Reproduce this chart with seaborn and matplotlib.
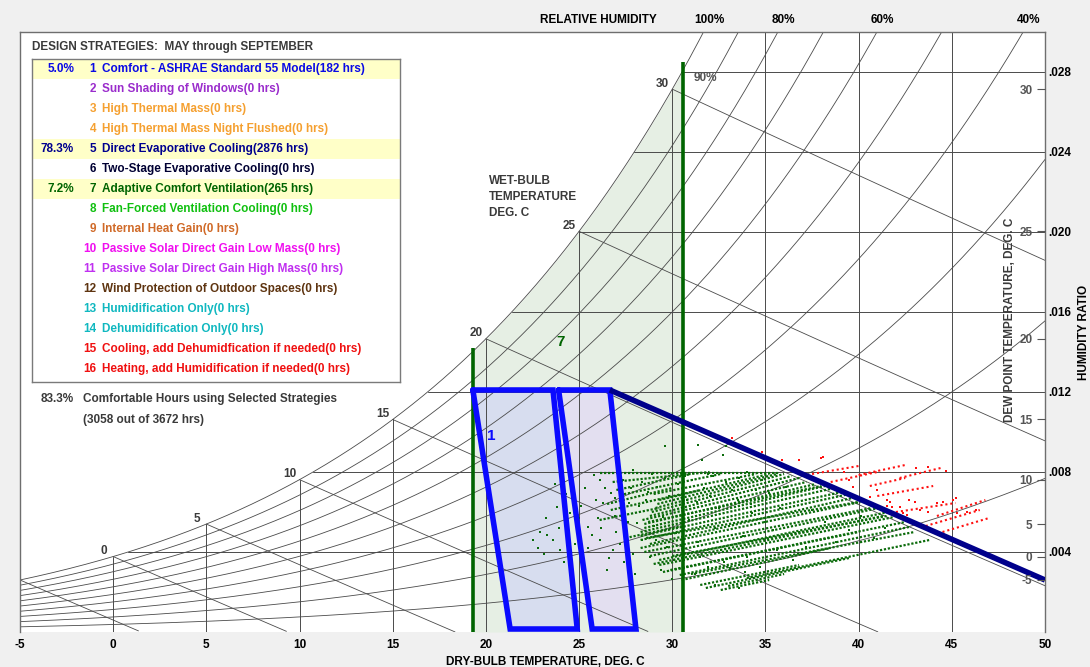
"""Psychrometric chart with design strategies, May through September."""
import numpy as np
import pandas as pd
import matplotlib

matplotlib.use("Agg")
import matplotlib.pyplot as plt
import seaborn as sns

PRESSURE_KPA = 101.325
FIG_W, FIG_H = 1090, 667

# chart furniture
rh_levels = [0.1, 0.2, 0.3, 0.4, 0.5, 0.6, 0.7, 0.8, 0.9, 1.0]
rh_header = [1.0, 0.8, 0.6, 0.4]
wet_bulb_levels = [-5, 0, 5, 10, 15, 20, 25, 30]
wet_bulb_labels = [0, 5, 10, 15, 20, 25, 30]
dry_bulb_grid = [0, 5, 10, 15, 20, 25, 30, 35, 40, 45]
ratio_grid = [0.004, 0.008, 0.012, 0.016, 0.020, 0.024, 0.028]
dew_point_ticks = [-5, 0, 5, 10, 15, 20, 25, 30]
x_ticks = [-5, 0, 5, 10, 15, 20, 25, 30, 35, 40, 45, 50]

# design strategies
strategy_ids = list(range(1, 17))
strategy_names = [
    "Comfort - ASHRAE Standard 55 Model",
    "Sun Shading of Windows",
    "High Thermal Mass",
    "High Thermal Mass Night Flushed",
    "Direct Evaporative Cooling",
    "Two-Stage Evaporative Cooling",
    "Adaptive Comfort Ventilation",
    "Fan-Forced Ventilation Cooling",
    "Internal Heat Gain",
    "Passive Solar Direct Gain Low Mass",
    "Passive Solar Direct Gain High Mass",
    "Wind Protection of Outdoor Spaces",
    "Humidification Only",
    "Dehumidification Only",
    "Cooling, add Dehumidfication if needed",
    "Heating, add Humidification if needed",
]
strategy_hours = [182, 0, 0, 0, 2876, 0, 265, 0, 0, 0, 0, 0, 0, 0, 0, 0]
strategy_share = ["5.0%", "", "", "", "78.3%", "", "7.2%", "", "", "", "", "", "", "", "", ""]
strategy_colors = [
    "#0a0ae6", "#9a2ccc", "#f5a030", "#f5a030", "#00008f", "#000033",
    "#006400", "#10c010", "#d06a28", "#f010f0", "#c030f0", "#5e3410",
    "#10b8c0", "#10b8c0", "#f01010", "#f01010",
]

# zones
zone7_t = [19.3, 30.6]
zone7_top = [0.0142, 0.0285]
comfort_low_t = [19.3, 23.6, 24.9, 21.3]
comfort_low_w = [0.0121, 0.0121, 0.00015, 0.00015]
comfort_high_t = [23.9, 26.65, 28.05, 25.7]
comfort_high_w = [0.0121, 0.0121, 0.00015, 0.00015]
evap_t = [26.65, 50.0]
evap_w = [0.0121, 0.0026]

# hourly weather streaks (start T, start W, end T, end W)
green_t0 = [31.5, 30.4, 29.3, 28.8, 28.3, 28.3, 28.3, 28.5, 28.8, 29.1, 29.3, 27.2, 26.7, 26.1, 32.6, 26.1,
            29.3, 28.8, 29.9, 28.5, 29.0, 28.5, 28.3, 28.4, 28.9, 29.2, 30.5, 31.0, 27.0, 26.5, 27.5, 33.0,
            29.5, 30.0, 28.6, 28.7, 29.0, 26.8, 31.8, 34.0]
green_w0 = [0.00235, 0.00285, 0.00335, 0.0038, 0.0042, 0.0046, 0.0050, 0.0054, 0.0058, 0.0062, 0.0066, 0.00685,
            0.0061, 0.0056, 0.0021, 0.00795, 0.0036, 0.0044, 0.0031, 0.0052, 0.0034, 0.0040, 0.0048, 0.0056,
            0.0060, 0.0064, 0.0026, 0.0029, 0.0071, 0.0064, 0.0047, 0.0023,
            0.0030, 0.0038, 0.0047, 0.0055, 0.0069, 0.0075, 0.0022, 0.0027]
green_t1 = [36.8, 42.7, 41.9, 41.1, 40.1, 39.5, 38.7, 37.7, 36.8, 36.0, 35.2, 32.6, 31.5, 29.3, 35.2, 35.8,
            41.6, 39.9, 42.5, 38.2, 41.3, 40.7, 39.1, 37.2, 36.4, 35.6, 38.5, 43.0, 31.0, 30.0, 30.5, 36.0,
            40.0, 41.5, 40.0, 38.0, 34.5, 32.0, 39.5, 43.8]
green_w1 = [0.00335, 0.00525, 0.00575, 0.0062, 0.0065, 0.0069, 0.0072, 0.0074, 0.0077, 0.0079, 0.0079, 0.0079,
            0.0071, 0.0062, 0.0026, 0.00795, 0.0060, 0.00675, 0.0055, 0.0073, 0.0058, 0.0062, 0.0070, 0.0075,
            0.0078, 0.0079, 0.0042, 0.0050, 0.0079, 0.0072, 0.0053, 0.0029,
            0.0050, 0.0058, 0.0065, 0.0073, 0.0079, 0.0080, 0.0037, 0.0046]
red_t0 = [37.5, 40.0, 42.2, 40.6, 43.6, 42.0, 44.2, 38.5, 44.5, 41.0]
red_w0 = [0.0079, 0.00785, 0.0077, 0.0073, 0.0053, 0.0060, 0.0058, 0.0075, 0.0050, 0.0068]
red_t1 = [40.0, 42.5, 44.4, 42.5, 46.5, 45.2, 46.8, 41.0, 47.0, 44.0]
red_w1 = [0.0083, 0.00835, 0.0082, 0.0077, 0.0061, 0.00645, 0.0066, 0.0080, 0.0057, 0.0073]

# single hours
green_t = [
    22.5, 22.8, 23.1, 23.3, 23.6, 23.9, 23.8, 24.5, 25.5, 25.7, 26.1, 26.5, 26.0, 26.3, 26.7,
    26.1, 25.8, 26.8, 25.5, 27.35, 27.7, 28.1, 28.4, 28.8, 29.2, 29.5, 29.7, 30.0, 30.2, 31.4,
    31.6, 32.7, 32.9, 31.5, 31.9, 32.6, 33.1, 34.0, 34.7, 35.6, 36.5, 37.2, 30.8, 31.05, 33.5,
    34.3, 35.2, 36.1, 33.6, 32.3, 30.0, 29.6, 24.2, 24.8, 25.1, 27.0, 27.4, 27.8, 28.0, 28.6,
    29.0, 29.4, 30.5, 30.9, 31.2, 32.0, 32.3, 32.9, 33.8, 34.5, 35.0, 35.8, 36.8, 37.5, 38.2,
    38.8, 39.5, 40.1, 40.8, 41.4, 27.9, 28.9, 31.9, 34.0, 26.9, 25.3, 24.6, 23.2,
    26.4, 26.9, 27.3, 27.6, 27.2, 27.9, 28.2, 28.7, 29.1, 29.8, 30.3, 30.6, 30.1, 31.3, 31.7,
    32.2, 32.5, 33.2, 33.6, 34.2, 34.8, 35.4, 26.2, 25.9, 25.0, 24.3, 23.7, 27.1, 28.4, 29.6,
    30.7, 31.4, 32.8, 33.9, 24.0, 22.9, 26.6, 27.7,
]
green_w = [
    0.0046, 0.0042, 0.0039, 0.00485, 0.0046, 0.0052, 0.00625, 0.00595, 0.00525, 0.00485, 0.0046, 0.0031, 0.0057, 0.00645, 0.00695,
    0.0076, 0.00785, 0.0041, 0.0042, 0.0076, 0.00645, 0.00545, 0.0046, 0.00375, 0.00725, 0.00575, 0.00425, 0.00795, 0.00495, 0.00935,
    0.0086, 0.00885, 0.0093, 0.00375, 0.00325, 0.0041, 0.0032, 0.00375, 0.00325, 0.0041, 0.0036, 0.00425, 0.0066, 0.0076, 0.0066,
    0.00595, 0.00695, 0.00725, 0.0022, 0.00235, 0.00265, 0.0093, 0.0035, 0.0044, 0.0063, 0.0050, 0.0035, 0.0072, 0.0029, 0.0066,
    0.0053, 0.0031, 0.0043, 0.0056, 0.0029, 0.0068, 0.0052, 0.0075, 0.0048, 0.0071, 0.0055, 0.0062, 0.0050, 0.0061, 0.0055,
    0.0045, 0.0051, 0.0058, 0.0047, 0.0052, 0.0081, 0.0079, 0.0079, 0.0080, 0.0058, 0.0072, 0.0078, 0.0057,
    0.0072, 0.0067, 0.0062, 0.0055, 0.0044, 0.0039, 0.0063, 0.0070, 0.0046, 0.0068, 0.0074, 0.0061, 0.0036, 0.0065, 0.0072,
    0.0078, 0.0062, 0.0071, 0.0077, 0.0064, 0.0076, 0.0051, 0.0052, 0.0066, 0.0057, 0.0069, 0.0074, 0.0078, 0.0075, 0.0077,
    0.0078, 0.0045, 0.0035, 0.0030, 0.0041, 0.0050, 0.0037, 0.0030,
]
red_t = [
    38.1, 36.8, 39.2, 39.5, 39.7, 40.6, 41.5, 41.7, 42.2, 42.7, 43.0, 43.3, 43.7, 44.2, 44.5,
    45.05, 45.3, 45.8, 46.3, 41.5, 41.8, 42.4, 42.6, 43.1, 43.7, 44.7, 45.2, 41.0, 33.2, 34.8,
    35.9, 38.0,
]
red_w = [
    0.00875, 0.0086, 0.0080, 0.0076, 0.00725, 0.00675, 0.0066, 0.0065, 0.00625, 0.0066, 0.0065, 0.0061, 0.0060, 0.00645, 0.0065,
    0.0066, 0.00595, 0.0060, 0.0061, 0.0063, 0.00625, 0.00595, 0.00585, 0.0082, 0.00825, 0.00805, 0.0067, 0.0071, 0.0097, 0.0090,
    0.0086, 0.0087,
]

GRID = "#4a4a4a"
TEXT = "#3a3a3a"


def sat_pressure(t):
    t = np.asarray(t, dtype=float)
    return 0.61094 * np.exp(17.625 * t / (t + 243.04))


def sat_temperature(pw):
    a = np.log(np.asarray(pw, dtype=float) / 0.61094)
    return 243.04 * a / (17.625 - a)


def humidity_ratio(t, rh=1.0):
    pw = rh * sat_pressure(t)
    return 0.622 * pw / (PRESSURE_KPA - pw)


def vapour_pressure(w):
    return w * PRESSURE_KPA / (0.622 + w)


def wet_bulb_line(twb, t):
    ws = humidity_ratio(twb)
    return ((2501 - 2.326 * twb) * ws - 1.006 * (t - twb)) / (2501 + 1.86 * t - 4.186 * twb)


def fig_xy(x, y):
    return x / FIG_W, 1 - y / FIG_H


sns.set_theme(style="white")
plt.rcParams["font.family"] = ["Liberation Sans", "DejaVu Sans"]
plt.rcParams["font.weight"] = "bold"
plt.rcParams["font.size"] = 8

fig = plt.figure(figsize=(FIG_W / 100, FIG_H / 100), dpi=100, facecolor="#f0f0f0")
ax = fig.add_axes([20 / FIG_W, 35 / FIG_H, 1025 / FIG_W, 600 / FIG_H])
ax.set_facecolor("white")
ax.set_xlim(-5, 50)
ax.set_ylim(0, 0.030)

# zone 7 and comfort fills
t_zone = np.linspace(zone7_t[0], zone7_t[1], 120)
ax.fill_between(t_zone, 0, humidity_ratio(t_zone), color="#e6efe4", lw=0, zorder=1)
ax.fill(comfort_low_t, comfort_low_w, color="#d7ddef", lw=0, zorder=1.2)
ax.fill(comfort_high_t, comfort_high_w, color="#e3dff0", lw=0, zorder=1.1)

# psychrometric grid
t_all = np.linspace(-5, 50, 500)
for rh in rh_levels:
    ax.plot(t_all, humidity_ratio(t_all, rh), color=GRID, lw=0.6, zorder=2)
for twb in wet_bulb_levels:
    t_line = np.linspace(twb, 50, 200)
    w_line = wet_bulb_line(twb, t_line)
    keep = w_line >= 0
    ax.plot(t_line[keep], w_line[keep], color=GRID, lw=0.6, zorder=2)
for tdb in dry_bulb_grid:
    ax.plot([tdb, tdb], [0, min(humidity_ratio(tdb), 0.030)], color=GRID, lw=0.7, zorder=2)
for w in ratio_grid:
    ax.plot([sat_temperature(vapour_pressure(w)), 50], [w, w], color=GRID, lw=0.7, zorder=2)

for twb in wet_bulb_labels:
    ax.annotate(str(twb), (twb, humidity_ratio(twb)), xytext=(-7, 4), textcoords="offset points",
                ha="center", va="center", color=TEXT, fontsize=8.5)

for rh in rh_header:
    t_top = sat_temperature(vapour_pressure(0.030) / rh)
    ax.annotate(f"{int(round(rh * 100))}%", (t_top, 0.030), xytext=(4, 8.6), textcoords="offset points",
                ha="center", va="center", color="black", fontsize=8.5, annotation_clip=False)
fig.text(*fig_xy(598, 20), "RELATIVE HUMIDITY", ha="center", va="center", fontsize=8.5, color="black")
ax.text(31.75, 0.0277, "90%", ha="center", va="center", color="#555555", fontsize=8.5, zorder=2.5)
ax.text(20.15, 0.02285, "WET-BULB\nTEMPERATURE\nDEG. C", ha="left", va="top", color=TEXT,
        fontsize=8.5, linespacing=1.45)

# hourly data
for t0, w0, t1, w1 in zip(green_t0, green_w0, green_t1, green_w1):
    ax.plot([t0, t1], [w0, w1], color="#0b6b0b", lw=1.6, ls=(0, (1.0, 0.8)), zorder=3)
for t0, w0, t1, w1 in zip(red_t0, red_w0, red_t1, red_w1):
    ax.plot([t0, t1], [w0, w1], color="#ff1010", lw=1.5, ls=(0, (1.0, 1.4)), zorder=3)
green_df = pd.DataFrame({"t": green_t, "w": green_w})
red_df = pd.DataFrame({"t": red_t, "w": red_w})
sns.scatterplot(data=green_df, x="t", y="w", color="#0b6b0b", marker="s", s=2.5, linewidth=0, ax=ax, zorder=3)
sns.scatterplot(data=red_df, x="t", y="w", color="#ff1010", marker="s", s=2.5, linewidth=0, ax=ax, zorder=3)

# zone outlines
for t_edge, w_top in zip(zone7_t, zone7_top):
    ax.plot([t_edge, t_edge], [0, w_top], color="#006400", lw=2.6, zorder=4, solid_capstyle="butt")
for pts_t, pts_w in [(comfort_low_t, comfort_low_w), (comfort_high_t, comfort_high_w)]:
    ax.plot(pts_t + pts_t[:1], pts_w + pts_w[:1], color="#0a0aff", lw=4, zorder=4.5, solid_joinstyle="miter")
ax.plot(evap_t, evap_w, color="#00008b", lw=4, zorder=5, solid_capstyle="butt")
ax.text(20.3, 0.0098, "1", color="#0a0aff", fontsize=11, ha="center", va="center", zorder=6)
ax.text(24.0, 0.0145, "7", color="#006400", fontsize=11, ha="center", va="center", zorder=6)

# dew point scale, inside the right edge
ax2 = ax.twinx()
ax2.set_ylim(ax.get_ylim())
ax2.set_yticks(humidity_ratio(np.array(dew_point_ticks, dtype=float)))
ax2.set_yticklabels([str(v) for v in dew_point_ticks])
ax2.tick_params(axis="y", direction="in", length=6, width=0.8, pad=-9, labelsize=8.5, colors="#555555")
for tick in ax2.yaxis.get_major_ticks():
    tick.label2.set_horizontalalignment("right")
for sp in ax2.spines.values():
    sp.set_visible(False)

# axes
ax.set_xticks(x_ticks)
ax.set_xticklabels([str(v) for v in x_ticks])
ax.tick_params(axis="x", length=0, pad=5, labelsize=8.5, colors="black")
ax.set_xlabel("DRY-BULB TEMPERATURE, DEG. C", fontsize=8.5, color="black", fontweight="bold")
ax.xaxis.set_label_coords((545 - 20) / 1025, -(656 - 632) / 600)
ax.yaxis.tick_right()
ax.set_yticks(ratio_grid)
ax.set_yticklabels([f"{w:.3f}"[1:] for w in ratio_grid])
ax.tick_params(axis="y", which="both", left=False, labelleft=False, right=True, labelright=True,
               length=0, pad=2, labelsize=8.5, colors="black")
ax.yaxis.set_label_position("right")
ax.set_ylabel("HUMIDITY RATIO", fontsize=8.5, color="black", fontweight="bold", labelpad=5)
ax.text((1010 - 20) / 1025, (632 - 320) / 600, "DEW POINT TEMPERATURE, DEG. C", transform=ax.transAxes,
        rotation=90, ha="center", va="center", color=TEXT, fontsize=8.5, zorder=6)
ax.spines["bottom"].set_visible(False)
for side in ["left", "top", "right"]:
    ax.spines[side].set_color("#6e6e6e")
    ax.spines[side].set_linewidth(1)

# strategy panel
fig.text(*fig_xy(32, 47), "DESIGN STRATEGIES:  MAY through SEPTEMBER", ha="left", va="center",
         color=TEXT, fontsize=8.5)
lax = fig.add_axes([32 / FIG_W, 1 - 382 / FIG_H, 368 / FIG_W, 323 / FIG_H])
lax.set_xlim(0, 368)
lax.set_ylim(323, 0)
lax.set_xticks([])
lax.set_yticks([])
lax.set_facecolor("white")
for sp in lax.spines.values():
    sp.set_color("#7a7a7a")
    sp.set_linewidth(1)
for i, (num, name, hrs, share, color) in enumerate(
        zip(strategy_ids, strategy_names, strategy_hours, strategy_share, strategy_colors)):
    y = 10 + 20 * i
    if share:
        lax.axhspan(y - 10, y + 10, color="#ffffc8", lw=0)
        lax.text(42, y, share, ha="right", va="center", color=color, fontsize=8.5)
    lax.text(64, y, str(num), ha="right", va="center", color=color, fontsize=8.5)
    lax.text(70, y, f"{name}({hrs} hrs)", ha="left", va="center", color=color, fontsize=8.5)

fig.text(*fig_xy(74, 399), "83.3%", ha="right", va="center", color=TEXT, fontsize=8.5)
fig.text(*fig_xy(83, 399), "Comfortable Hours using Selected Strategies", ha="left", va="center",
         color=TEXT, fontsize=8.5)
fig.text(*fig_xy(83, 420), "(3058 out of 3672 hrs)", ha="left", va="center", color=TEXT, fontsize=8.5)

fig.savefig("out.png", dpi=100, facecolor=fig.get_facecolor())
